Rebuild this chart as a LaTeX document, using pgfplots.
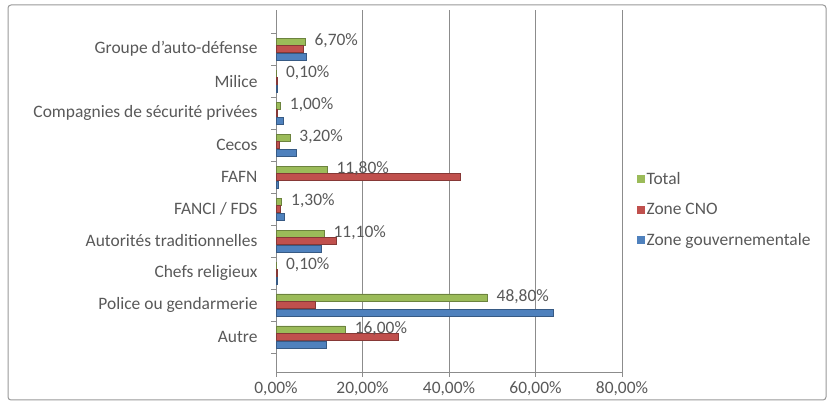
\documentclass[border=0pt]{standalone}
\usepackage{pgfplots}
\pgfplotsset{compat=1.18}
\usepackage{pgfplotstable}
\usepackage{fontspec}
\setmainfont{Carlito}
\definecolor{cTot}{RGB}{155,187,89}
\definecolor{cCNO}{RGB}{192,80,77}
\definecolor{cGov}{RGB}{79,129,189}
\definecolor{txt}{RGB}{89,89,89}
\definecolor{gridc}{RGB}{140,140,140}
\pgfplotstableread{
idx tot cno gov
0 16.0 28.2 11.6
1 48.8 9.1 64.2
2 0.1 0.2 0.2
3 11.1 14.0 10.4
4 1.3 1.0 1.9
5 11.8 42.6 0.5
6 3.2 0.7 4.7
7 1.0 0.3 1.6
8 0.1 0.2 0.3
9 6.7 6.4 7.1
}\data
\newcommand{\chfont}{\fontsize{17.5}{21}\selectfont}
\begin{document}
\begin{tikzpicture}
\path[fill=white] (0bp,0bp) rectangle (831bp,408bp);
\draw[rounded corners=3bp, color=gray!80, line width=1bp] (8bp,8bp) rectangle (826bp,403bp);
\begin{axis}[
  at={(276bp,36bp)}, anchor=south west,
  width=346bp, height=362bp, scale only axis,
  xbar, xmin=0, xmax=80, ymin=-1.094, ymax=10.22,
  axis x line*=bottom, axis y line*=left,
  axis line style={gridc, line width=0.8bp},
  xtick={0,20,40,60,80},
  xticklabel={\pgfmathprintnumber[fixed,fixed zerofill,precision=2,use comma,assume math mode=true]{\tick}\%},
  ytick={0,...,9},
  minor ytick={-0.5,0.5,...,9.5},
  yticklabels={Autre, Police ou gendarmerie, Chefs religieux, Autorités traditionnelles, FANCI / FDS, FAFN, Cecos, Compagnies de sécurité privées, Milice, Groupe d'auto-défense},
  tick align=outside,
  major tick length=5bp, minor tick length=5bp,
  every major y tick/.style={draw=none},
  every minor y tick/.style={gridc, line width=0.8bp},
  every major x tick/.style={gridc, line width=0.8bp},
  xmajorgrids, major grid style={gridc, line width=0.8bp},
  ticklabel style={font=\chfont, text=txt},
  yticklabel style={xshift=-10bp},
  xticklabel style={yshift=-1bp},
  bar width=7bp,
  legend style={at={(1.033,0.564)}, anchor=north west, draw=none, fill=none,
    font=\chfont, text=txt, row sep=13.5bp,
    legend cell align=left},
  legend image code/.code={\path[#1, draw=none] (0bp,-4bp) rectangle (8bp,4bp);},
]
\addplot[bar shift=7.5bp, fill=cTot, draw=cTot!70!black, line width=0.6bp,
  nodes near coords={\pgfmathprintnumber[fixed,fixed zerofill,precision=2,use comma,assume math mode=true]{\pgfplotspointmeta}\%},
  nodes near coords style={font=\chfont, text=txt, anchor=west, xshift=6bp, yshift=1bp}]
  table[x=tot, y=idx] {\data};
\addlegendentry{Total}
\addplot[bar shift=0bp, fill=cCNO, draw=cCNO!70!black, line width=0.6bp]
  table[x=cno, y=idx] {\data};
\addlegendentry{Zone CNO}
\addplot[bar shift=-7.5bp, fill=cGov, draw=cGov!70!black, line width=0.6bp]
  table[x=gov, y=idx] {\data};
\addlegendentry{Zone gouvernementale}
\end{axis}
\end{tikzpicture}
\end{document}
